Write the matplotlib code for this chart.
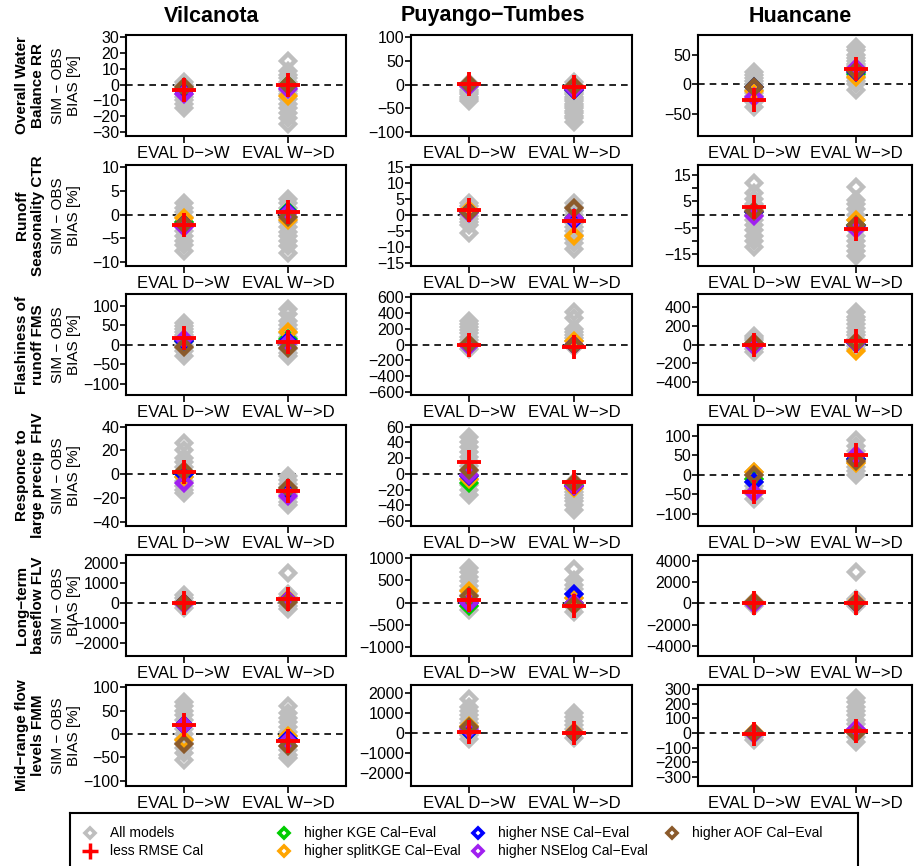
import matplotlib
matplotlib.use("Agg")
import matplotlib.pyplot as plt

plt.rcParams["font.family"] = ["Liberation Sans", "DejaVu Sans"]

W, H = 916, 866

catchments = ["Vilcanota", "Puyango−Tumbes", "Huancane"]
indicators = ["Overall Water\nBalance RR", "Runoff\nSeasonality CTR", "Flashiness of\nrunoff FMS",
              "Responce to\nlarge precip  FHV", "Long−term\nbaseflow FLV", "Mid−range flow\nlevels FMM"]
eval_labels = ["EVAL D−>W", "EVAL W−>D"]

# all models, per catchment: (D->W values, W->D values)
gray_rr = [
    ([2, 0, -1, -3, -4, -6, -8, -10, -12, -15],
     [15, 9, 6, 4, 2, 0, -2, -4, -6, -9, -12, -15, -18, -21, -25]),
    ([3, 0, -5, -10, -15, -20, -25, -30, -35],
     [5, 0, -5, -10, -15, -20, -25, -30, -35, -40, -45, -50, -55, -60, -65, -70, -79]),
    ([21, 15, 10, 5, 0, -5, -10, -15, -20, -25, -30, -38],
     [63, 58, 50, 45, 40, 35, 30, 25, 20, 15, 10, 5, 0, -10]),
]
gray_ctr = [
    ([2.5, 1.5, 0.5, -0.5, -1.5, -2.5, -3.5, -4.5, -5.5, -6.5, -7.7],
     [3.4, 2.4, 1.4, 0.4, -0.6, -1.6, -2.6, -3.6, -4.6, -5.6, -6.6, -8]),
    ([3.8, 2.8, 1.8, 0.8, -0.2, -1.2, -2.2, -3.2, -5.5],
     [3.8, 2.5, 1.2, 0, -1.2, -2.5, -3.8, -5, -6.2, -7.5, -8.8, -10.5]),
    ([11.8, 8, 6, 4, 2, 0, -2, -4, -6, -8, -10, -12.3],
     [10.6, 5.5, 4, 2, 0, -2, -4, -6, -8, -10, -12, -14, -15.7]),
]
gray_fms = [
    ([56, 48, 40, 32, 24, 16, 8, 0, -8, -16, -28],
     [92, 78, 62, 50, 40, 30, 20, 10, 0, -10, -20, -28]),
    ([300, 260, 220, 180, 140, 100, 60, 20, -20, -55],
     [405, 330, 200, 160, 120, 80, 40, 0, -35]),
    ([96, 70, 45, 20, 0, -20, -45, -82],
     [345, 300, 260, 220, 180, 140, 100, 60, 20, -20, -50]),
]
gray_fhv = [
    ([26, 20, 14, 10, 6, 2, -2, -6, -10, -13, -16],
     [-1.5, -5, -8, -11, -14, -17, -20, -23, -26]),
    ([47, 40, 34, 28, 22, 16, 10, 4, -2, -8, -14, -20, -27],
     [-11, -15, -19, -23, -27, -31, -35, -40, -46]),
    ([6, 0, -10, -20, -30, -40, -50, -62],
     [90, 75, 60, 50, 40, 30, 20, 10, 0]),
]
gray_flv = [
    ([400, 250, 100, 0, -100, -250],
     [1500, 450, 300, 150, 0, -150, -300]),
    ([780, 680, 580, 480, 380, 280, 180, 80, 0, -80, -160],
     [750, 500, 400, 300, 200, 100, 0, -100, -200]),
    ([200, 0, -200],
     [3000, 400, 200, 0, -200]),
]
gray_fmm = [
    ([69, 60, 50, 40, 30, 20, 10, 0, -10, -20, -30, -40, -55],
     [60, 45, 35, 25, 15, 5, -5, -15, -25, -35, -45, -51]),
    ([1700, 1300, 1100, 900, 700, 500, 300, 100, -100, -300],
     [1000, 800, 600, 400, 200, 0, -250]),
    ([10, -10, -30, -50],
     [240, 210, 180, 150, 120, 90, 60, 30, 0, -30, -60]),
]
gray_rows = [gray_rr, gray_ctr, gray_fms, gray_fhv, gray_flv, gray_fmm]

# selected models, per panel (row by row, Vilcanota / Puyango / Huancane): (D->W, W->D)
kge_sel = [(-3, 0), (0, -6), (-5, 18),
           (-1.5, 0.8), (1, -1), (1, -4),
           (10, 15), (0, -10), (0, 20),
           (0, -13), (-12, -14), (-10, 40),
           (0, 150), (-80, 0), (0, 0),
           (20, -10), (100, 0), (0, 5)]
splitkge_sel = [(-3, -7), (0, -10), (-12, 12),
                (-0.7, -1.1), (1.6, -6.5), (1, -2),
                (12, 33), (0, 50), (0, -70),
                (-2, -14), (-7, -18), (7, 30),
                (0, 200), (250, 100), (150, 100),
                (-12, -5), (350, 50), (5, 10)]
nse_sel = [(-4, -1), (0, -12), (-5, 20),
           (-2, 0.5), (1, -1.5), (1, -4.5),
           (10, 10), (0, -10), (0, 20),
           (0, -13), (-3, -15), (-20, 40),
           (0, 150), (0, 200), (0, 0),
           (20, -10), (100, 0), (0, 5)]
nselog_sel = [(-5.7, -2.5), (-2, -8), (-22, 28),
              (-2.6, 0.3), (0.5, -1), (-0.5, -5.5),
              (15, 5), (-15, -10), (-20, 20),
              (-7, -18.5), (-2, -15), (-48, 50),
              (-50, 150), (0, 0), (-50, 0),
              (20, -15), (200, 0), (-10, 30)]
aof_sel = [(-1.5, 0), (1, -3), (-5, 22),
           (-2, -0.5), (0.9, 2.2), (1.5, -4),
           (-6, -8), (10, -10), (14, 30),
           (3, -12), (5, -12), (0, 35),
           (0, 50), (150, -50), (100, 50),
           (-22, -25), (300, 0), (0, 0)]
rmse_sel = [(-3.5, 0), (2, -5), (-27, 25),
            (-2.1, 0.5), (1.6, -2), (2.7, -5.5),
            (17, 8), (0, -30), (0, 40),
            (1.5, -14), (15, -11), (-45, 52),
            (0, 200), (50, -80), (50, 50),
            (20, -15), (50, 0), (-5, 15)]

ylims = [(-32.5, 31.5), (-108, 105), (-87, 83),
         (-10.85, 10.5), (-15.8, 15.5), (-19.5, 18.8),
         (-128, 130), (-634, 634), (-542, 543),
         (-43.6, 41.4), (-66.4, 62.2), (-132, 128),
         (-2650, 2400), (-1200, 1070), (-4940, 4560),
         (-111, 105), (-2650, 2400), (-361, 327)]
yticks = [list(range(-30, 31, 10)), [-100, -50, 0, 50, 100], [-50, 0, 50],
          [-10, -5, 0, 5, 10], list(range(-15, 16, 5)), list(range(-15, 16, 5)),
          [-100, -50, 0, 50, 100], list(range(-600, 601, 200)), list(range(-400, 401, 200)),
          list(range(-40, 41, 20)), list(range(-60, 61, 20)), [-100, -50, 0, 50, 100],
          list(range(-2000, 2001, 1000)), list(range(-1000, 1001, 500)), list(range(-4000, 4001, 2000)),
          list(range(-100, 101, 50)), list(range(-2000, 2001, 1000)), list(range(-300, 301, 100))]

sel_series = [(kge_sel, "#00CD00"), (splitkge_sel, "#FFA500"), (nse_sel, "#0000FF"),
              (nselog_sel, "#A020F0"), (aof_sel, "#8B5A2B")]
GRAY = "#BEBEBE"
dkw = dict(marker="D", ms=7.6, mew=3.2, mfc="none", ls="none")

col_left = [126, 411, 698]
col_w = [220, 221, 214]
row_top = [35, 165, 294, 425, 555, 685]
row_h = 101

fig = plt.figure(figsize=(W / 100, H / 100), dpi=100)

for i in range(6):
    for j in range(3):
        k = i * 3 + j
        ax = fig.add_axes([col_left[j] / W, 1 - (row_top[i] + row_h) / H, col_w[j] / W, row_h / H])
        ax.axhline(0, color="black", lw=1.2, ls=(0, (4, 3)), zorder=1)
        dw, wd = gray_rows[i][j]
        ax.plot([1] * len(dw), dw, color=GRAY, zorder=2, **dkw)
        ax.plot([2] * len(wd), wd, color=GRAY, zorder=2, **dkw)
        for vals, c in sel_series:
            ax.plot([1, 2], vals[k], color=c, zorder=3, **dkw)
        ax.plot([1, 2], rmse_sel[k], marker="+", ms=17, mew=2.8, color="#FF0000", ls="none", zorder=4)
        ax.set_xlim(0.45, 2.55)
        ax.set_ylim(*ylims[k])
        ax.set_xticks([1, 2])
        ax.set_xticklabels(eval_labels)
        ax.set_yticks(yticks[k])
        if i == 1 and j == 2:
            ax.set_yticklabels([str(t).replace("-", "−") if t % 10 else "" for t in yticks[k]])
        else:
            ax.set_yticklabels([str(t).replace("-", "−") for t in yticks[k]])
        ax.tick_params(axis="x", length=5, width=1.2, pad=2, labelsize=12)
        ax.tick_params(axis="y", length=4, width=1.2, pad=1, labelsize=11.5)
        for s in ax.spines.values():
            s.set_linewidth(1.5)
        if j == 0:
            ax.text(-0.436, 0.5, indicators[i], transform=ax.transAxes, rotation=90,
                    ha="center", va="center", fontsize=11, fontweight="bold", linespacing=1.15)
            ax.text(-0.273, 0.5, "SIM − OBS\nBIAS [%]", transform=ax.transAxes, rotation=90,
                    ha="center", va="center", fontsize=11, linespacing=1.15)

title_x = [212, 493, 800]
for j, name in enumerate(catchments):
    fig.text(title_x[j] / W, 1 - 16 / H, name, ha="center", va="center", fontsize=15.5, fontweight="bold")

# legend box
lax = fig.add_axes([70 / W, -0.02, 788 / W, (866 - 813) / H + 0.02])
lax.set_xlim(70, 858)
lax.set_ylim(866 + 0.02 * H, 813)
lax.set_xticks([])
lax.set_yticks([])
for s in lax.spines.values():
    s.set_linewidth(1.5)
leg_entries = [("All models", GRAY, "D", 90, 833), ("less RMSE Cal", "#FF0000", "+", 90, 851),
               ("higher KGE Cal−Eval", "#00CD00", "D", 284, 833),
               ("higher splitKGE Cal−Eval", "#FFA500", "D", 284, 851),
               ("higher NSE Cal−Eval", "#0000FF", "D", 478, 833),
               ("higher NSElog Cal−Eval", "#A020F0", "D", 478, 851),
               ("higher AOF Cal−Eval", "#8B5A2B", "D", 672, 833)]
for lab, c, m, x, y in leg_entries:
    if m == "D":
        lax.plot(x, y, marker="D", ms=5.5, mew=2.6, mfc="none", color=c)
    else:
        lax.plot(x, y, marker="+", ms=11, mew=2.5, color=c)
    lax.text(x + 20, y, lab, ha="left", va="center", fontsize=10)

fig.savefig("out.png", dpi=100)
